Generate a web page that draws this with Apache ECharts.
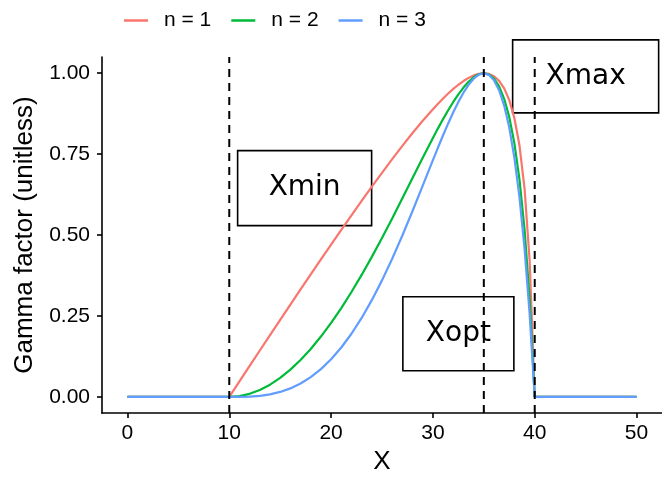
<!DOCTYPE html>
<html>
<head>
<meta charset="utf-8">
<script src="https://cdn.jsdelivr.net/npm/echarts@6/dist/echarts.min.js"></script>
<style>
html,body{margin:0;padding:0;background:#fff;}
#chart{width:662px;height:480px;}
</style>
</head>
<body>
<div id="chart"></div>
<script>
// X values of the sampled curves
const xValues = [0, 10, 11, 12, 13, 14, 15, 16, 17, 18, 19, 20, 21, 22, 23, 24, 25, 26, 27, 28, 29, 30,
  30.5, 31, 31.5, 32, 32.5, 33, 33.5, 34, 34.5, 35, 35.5, 36, 36.5, 37, 37.5, 38, 38.5, 39, 39.5, 40, 50];
// Gamma factor, n = 1
const gammaN1 = [0, 0, 0.0479, 0.0957, 0.1434, 0.1908, 0.2381, 0.2851, 0.3320, 0.3785, 0.4247, 0.4706, 0.5160, 0.5610, 0.6055, 0.6493, 0.6923, 0.7344, 0.7754, 0.8151, 0.8531, 0.8889,
  0.9058, 0.9220, 0.9372, 0.9514, 0.9643, 0.9758, 0.9855, 0.9931, 0.9981, 1, 0.9978, 0.9905, 0.9763, 0.9529, 0.9167, 0.8615, 0.7773, 0.6444, 0.4214, 0, 0];
// Gamma factor, n = 2
const gammaN2 = [0, 0, 0.0024, 0.0095, 0.0214, 0.0378, 0.0588, 0.0843, 0.1141, 0.1482, 0.1864, 0.2286, 0.2745, 0.3240, 0.3768, 0.4326, 0.4909, 0.5514, 0.6134, 0.6762, 0.7388, 0.8000,
  0.8296, 0.8582, 0.8854, 0.9111, 0.9346, 0.9556, 0.9735, 0.9874, 0.9966, 1, 0.9961, 0.9833, 0.9592, 0.9208, 0.8643, 0.7840, 0.6722, 0.5175, 0.3027, 0, 0];
// Gamma factor, n = 3
const gammaN3 = [0, 0, 0.0001, 0.0010, 0.0034, 0.0079, 0.0154, 0.0263, 0.0414, 0.0611, 0.0859, 0.1164, 0.1527, 0.1952, 0.2439, 0.2989, 0.3600, 0.4267, 0.4985, 0.5742, 0.6525, 0.7314,
  0.7703, 0.8082, 0.8448, 0.8793, 0.9113, 0.9398, 0.9641, 0.9830, 0.9955, 1, 0.9949, 0.9781, 0.9474, 0.8998, 0.8319, 0.7394, 0.6173, 0.4591, 0.2567, 0, 0];
const seriesNames = ['n = 1', 'n = 2', 'n = 3'];
// Cardinal values (dashed vertical lines)
const cardinalX = [10, 35, 40];
// Text annotations: label, x, y (data units)
const annoLabels = ['Xmin', 'Xopt', 'Xmax'];
const annoX = [17.4, 32.5, 45];
const annoY = [0.645, 0.195, 0.99];
// Tick values
const xTicks = [0, 10, 20, 30, 40, 50];
const yTicks = [0, 0.25, 0.5, 0.75, 1];

const colors = ['#F8766D', '#00BA38', '#619CFF'];
const boxSizes = [[134, 75], [111, 74], [146, 73]];
const FONT = 'Liberation Sans, Arial, sans-serif';

const curves = [gammaN1, gammaN2, gammaN3].map((ys, i) => ({
  name: seriesNames[i],
  type: 'line',
  data: xValues.map((x, j) => [x, ys[j]]),
  showSymbol: false,
  symbol: 'none',
  smooth: false,
  lineStyle: {color: colors[i], width: 2.2},
  itemStyle: {color: colors[i]},
  z: 3 + i,
  silent: true,
  animation: false
}));

const yMin = -0.05, yMax = 1.05;

const option = {
  animation: false,
  backgroundColor: '#fff',
  legend: {
    data: seriesNames,
    top: 5,
    left: 119,
    icon: 'rect',
    itemWidth: 24,
    itemHeight: 2.5,
    itemGap: 20,
    textStyle: {fontSize: 21, color: '#000', fontFamily: FONT, padding: [0, 0, 0, 11]}
  },
  grid: {left: 102, top: 57, width: 565, height: 361},
  xAxis: {
    type: 'value', min: -2.5, max: 52.5,
    name: 'X', nameLocation: 'middle', nameGap: 34,
    nameTextStyle: {fontSize: 26, color: '#000', fontFamily: FONT},
    axisLine: {show: true, onZero: false, lineStyle: {color: '#000', width: 1.6}},
    axisTick: {show: true, length: 5, customValues: xTicks, lineStyle: {color: '#000', width: 1.6}},
    axisLabel: {customValues: xTicks, fontSize: 21, color: '#000', fontFamily: FONT, margin: 10},
    splitLine: {show: false}
  },
  yAxis: {
    type: 'value', min: yMin, max: yMax,
    name: 'Gamma factor (unitless)', nameLocation: 'middle', nameGap: 64,
    nameTextStyle: {fontSize: 26, color: '#000', fontFamily: FONT},
    axisLine: {show: true, onZero: false, lineStyle: {color: '#000', width: 1.6}},
    axisTick: {show: true, length: 5, customValues: yTicks, lineStyle: {color: '#000', width: 1.6}},
    axisLabel: {customValues: yTicks, fontSize: 21, color: '#000', fontFamily: FONT, margin: 12,
      formatter: v => Number(v).toFixed(2)},
    splitLine: {show: false}
  },
  series: [
    {
      type: 'custom',
      name: 'labels',
      z: 1,
      silent: true,
      clip: false,
      data: annoLabels.map((l, i) => [annoX[i], annoY[i]]),
      renderItem: function (params, api) {
        const p = api.coord([api.value(0), api.value(1)]);
        const s = boxSizes[params.dataIndex];
        return {
          type: 'group',
          children: [
            {type: 'rect', shape: {x: p[0] - s[0] / 2, y: p[1] - s[1] / 2, width: s[0], height: s[1]},
              style: {fill: '#fff', stroke: '#000', lineWidth: 1.6}},
            {type: 'text', x: p[0], y: p[1],
              style: {text: annoLabels[params.dataIndex], fontSize: 28, fontFamily: 'DejaVu Sans', fill: '#000',
                align: 'center', verticalAlign: 'middle'}}
          ]
        };
      }
    },
    ...curves,
    {
      type: 'custom',
      name: 'vlines',
      z: 10,
      silent: true,
      data: cardinalX.map(v => [v]),
      renderItem: function (params, api) {
        const a = api.coord([api.value(0), yMin]);
        const b = api.coord([api.value(0), yMax]);
        return {
          type: 'line',
          shape: {x1: a[0], y1: a[1], x2: b[0], y2: b[1]},
          style: {stroke: '#000', lineWidth: 2, lineDash: [8, 6]}
        };
      }
    }
  ]
};

const chart = echarts.init(document.getElementById('chart'), null, {renderer: 'canvas'});
chart.setOption(option);
</script>
</body>
</html>
